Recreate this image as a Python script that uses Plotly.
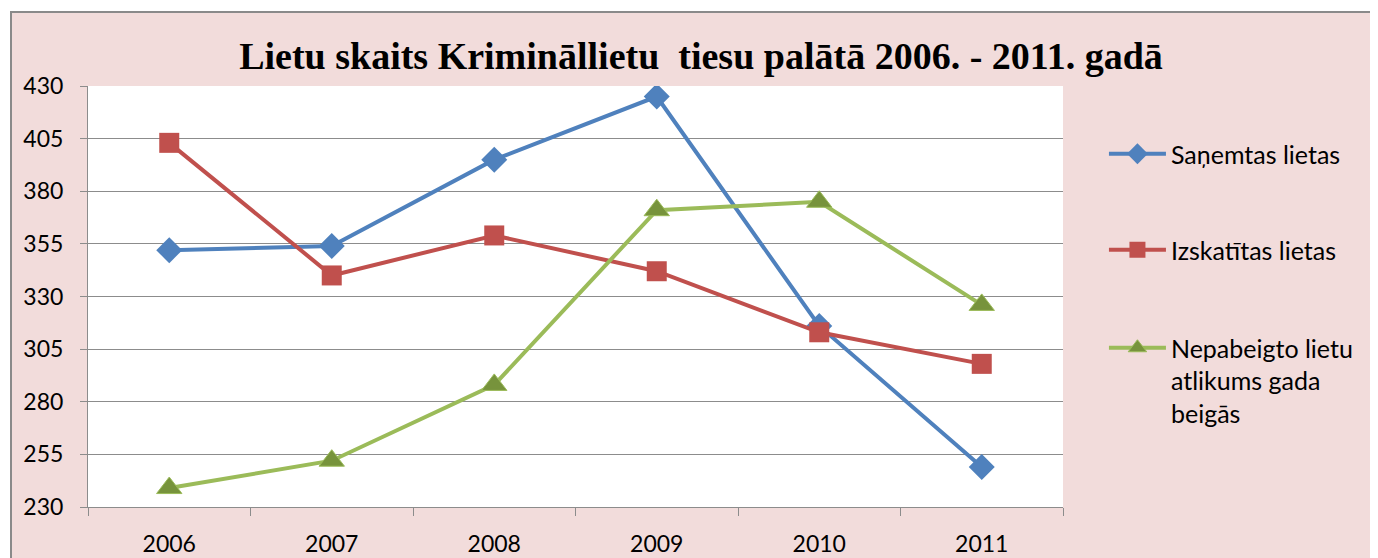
import plotly.graph_objects as go

years = ["2006", "2007", "2008", "2009", "2010", "2011"]
sanemtas = [352, 354, 395, 425, 316, 249]
izskatitas = [403, 340, 359, 342, 313, 298]
nepabeigto = [239, 252, 288, 371, 375, 326]

names = ["Saņemtas lietas", "Izskatītas lietas", "Nepabeigto lietu<br>atlikums gada<br>beigās"]
title_text = "Lietu skaits Krimināllietu\u00a0 tiesu palātā 2006. - 2011. gadā"

# page body has an 8px margin; compensate
OFF = 8
W, H = 1378 - OFF, 558 - OFF
L, T = 88 - OFF, 86 - OFF
PW, PH = 975, 421

def py(y_screen):
    return (507 - y_screen) / PH

def px(x_screen):
    return (x_screen - 88) / PW

fig = go.Figure()
fig.add_trace(go.Scatter(
    x=years, y=sanemtas, name=names[0], mode="lines+markers", legend="legend",
    line=dict(color="#4F81BD", width=4),
    marker=dict(symbol="diamond", size=20, color="#4F81BD"),
))
fig.add_trace(go.Scatter(
    x=years, y=izskatitas, name=names[1], mode="lines+markers", legend="legend2",
    line=dict(color="#C0504D", width=4),
    marker=dict(symbol="square", size=20, color="#C0504D"),
))
fig.add_trace(go.Scatter(
    x=years, y=nepabeigto, name=names[2], mode="lines+markers", legend="legend3",
    line=dict(color="#9BBB59", width=4),
    marker=dict(symbol="triangle-up", size=22, color="#77933C",
                line=dict(color="#9BBB59", width=1)),
))

font_main = "Lato, 'Open Sans', sans-serif"
leg_common = dict(font=dict(family=font_main, size=25, color="#000000"),
                  bgcolor="rgba(0,0,0,0)", itemwidth=57, x=1.042, xanchor="left",
                  yanchor="top", valign="top", tracegroupgap=0)

fig.update_layout(
    width=W, height=H,
    margin=dict(l=L, r=W - L - PW, t=T, b=H - T - PH, autoexpand=False),
    paper_bgcolor="#FFFFFF",
    plot_bgcolor="#FFFFFF",
    showlegend=True,
    title=dict(text=title_text, x=(701 - OFF) / W, xref="container", xanchor="center",
               y=1 - (56 - OFF) / H, yref="container", yanchor="middle",
               font=dict(family="'Liberation Serif', 'Times New Roman', serif", size=38,
                         color="#000000", weight="bold")),
    legend=dict(**leg_common, y=py(131)),
    legend2=dict(**leg_common, y=py(227)),
    legend3=dict(**leg_common, y=py(325)),
    shapes=[
        dict(type="rect", xref="paper", yref="paper", x0=px(11), x1=1.5,
             y0=-0.4, y1=py(12), fillcolor="#F2DCDB",
             line=dict(color="#8A8A8A", width=2), layer="below"),
        dict(type="rect", xref="paper", yref="paper", x0=0, x1=1, y0=0, y1=1,
             fillcolor="#FFFFFF", line=dict(width=0), layer="below"),
    ],
)

fig.update_xaxes(
    type="category", range=[-0.5, 5.5], showgrid=False,
    showline=True, linecolor="#8C8C8C", linewidth=1,
    ticks="outside", tickson="boundaries", ticklen=8, tickcolor="#8C8C8C",
    tickfont=dict(family=font_main, size=23, color="#000000"),
    ticklabelstandoff=16,
)
fig.update_yaxes(
    range=[230, 430], dtick=25, tick0=230,
    showgrid=True, gridcolor="#8C8C8C", gridwidth=1,
    showline=True, linecolor="#8C8C8C", linewidth=1, zeroline=False,
    ticks="outside", ticklen=7, tickcolor="#8C8C8C",
    tickfont=dict(family=font_main, size=23, color="#000000"),
    ticklabelstandoff=12,
)

fig.write_html("out.html")
